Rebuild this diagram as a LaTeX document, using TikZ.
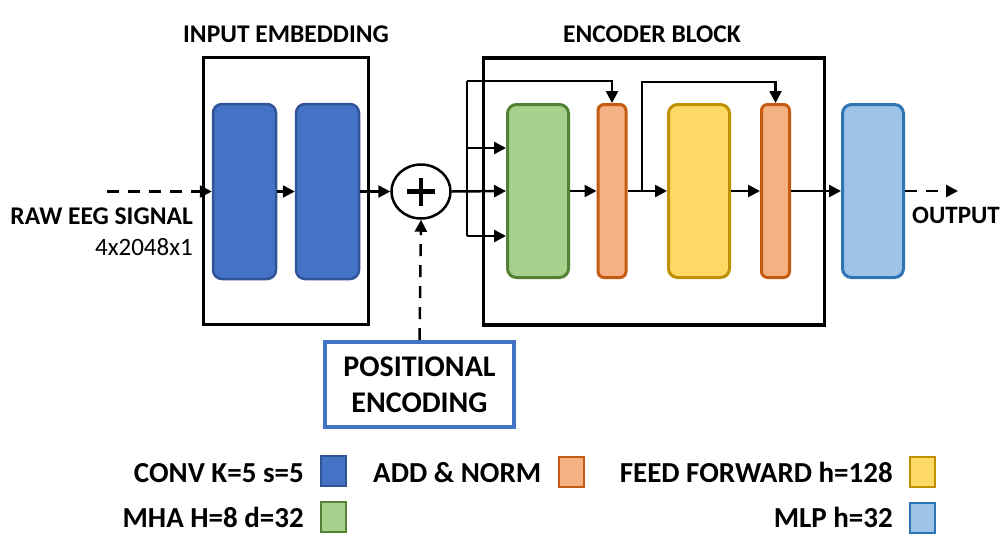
\documentclass[tikz,border=0pt]{standalone}
\usepackage{fontspec}
\setmainfont{Carlito}
\usetikzlibrary{arrows.meta,shapes.geometric}
\definecolor{convF}{HTML}{4472C4}\definecolor{convD}{HTML}{2F5597}
\definecolor{mhaF}{HTML}{A9D18E}\definecolor{mhaD}{HTML}{548235}
\definecolor{anF}{HTML}{F4B183}\definecolor{anD}{HTML}{C55A11}
\definecolor{ffF}{HTML}{FFD966}\definecolor{ffD}{HTML}{BF9000}
\definecolor{mlpF}{HTML}{9DC3E6}\definecolor{mlpD}{HTML}{2E75B6}
\begin{document}
\begin{tikzpicture}[x=1pt,y=-1pt,
  blk/.style={draw,line width=3pt,rounded corners=9pt,inner sep=0pt,minimum width=61pt,minimum height=173pt},
  thin/.style={blk,rounded corners=6pt,minimum width=28pt},
  frame/.style={draw,line width=3.5pt,inner sep=0pt},
  arr/.style={line width=2.5pt,-{Triangle[length=12pt,width=12pt]}},
  dashedarr/.style={arr,dash pattern=on 12pt off 9pt},
  lbl/.style={inner sep=0pt,font=\fontsize{25.5}{30}\selectfont\bfseries},
  leg/.style={inner sep=0pt,font=\fontsize{29}{34}\selectfont\bfseries},
  sw/.style={draw,line width=2pt,inner sep=0pt,minimum width=25pt,minimum height=30pt},
]
\useasboundingbox (0,0) rectangle (1003,539);
% frames
\node[frame,minimum width=165pt,minimum height=267pt] (embed) at (286,191) {};
\node[frame,minimum width=341pt,minimum height=267pt] (enc) at (654,191.3) {};
\node[lbl,anchor=base] (embedlbl) at (286,42) {INPUT EMBEDDING};
\node[lbl,anchor=base] (enclbl) at (652,42) {ENCODER BLOCK};
% blocks
\node[blk,fill=convF,draw=convD,line width=2.5pt,minimum width=63pt,minimum height=175pt] (conv1) at (244.5,191.5) {};
\node[blk,fill=convF,draw=convD,line width=2.5pt,minimum width=63pt,minimum height=175pt] (conv2) at (327.5,191.5) {};
\node[blk,fill=mhaF,draw=mhaD] (mha) at (538,191) {};
\node[thin,fill=anF,draw=anD] (an1) at (612,191) {};
\node[blk,fill=ffF,draw=ffD] (ff) at (699,191) {};
\node[thin,fill=anF,draw=anD] (an2) at (775.5,191) {};
\node[blk,fill=mlpF,draw=mlpD] (mlp) at (873,191) {};
% add node
\node[ellipse,draw,line width=2.5pt,minimum width=59pt,minimum height=54pt,inner sep=0pt] (add) at (421,191.5) {};
\draw[line width=4.5pt] ([xshift=-14pt]add.center) -- ([xshift=14pt]add.center);
\draw[line width=4.5pt] ([yshift=-14pt]add.center) -- ([yshift=14pt]add.center);
% positional encoding
\node[draw=convF,line width=4pt,minimum width=189pt,minimum height=85pt,inner sep=0pt,align=center,
  font=\fontsize{30}{36}\selectfont\bfseries] (pe) at (419.5,384.5) {POSITIONAL\\ENCODING};
% input / output
\coordinate (in) at (107,191.5);
\coordinate (out) at (958,191);
\draw[dashedarr] (in) -- (conv1.west);
\node[lbl,anchor=base east] (raw) at (193,224) {RAW EEG SIGNAL};
\node[inner sep=0pt,anchor=base east,font=\fontsize{25}{30}\selectfont] (shape) at (193,255) {4x2048x1};
\draw[arr] (conv1.east) -- (conv2.west);
\draw[arr] (conv2.east) -- (add.west);
\draw[dashedarr] (pe.north) -- (add.south);
% split into MHA
\coordinate (sTop) at (467,81);
\coordinate (sMid) at (467,148);
\coordinate (sBot) at (467,236);
\draw[line width=2.5pt] (sTop) -- (sBot);
\draw[arr] (add.east) -- (mha.west);
\draw[arr] (sMid) -- (sMid -| mha.west);
\draw[arr] (sBot) -- (sBot -| mha.west);
\draw[arr] (sTop) -| (an1.north);
\draw[arr] (mha.east) -- (an1.west);
\draw[arr] (an1.east) -- (ff.west);
\coordinate (b2) at (642,191);
\coordinate (b2t) at (642,82);
\draw[arr] (b2) -- (b2t) -| (an2.north);
\draw[arr] (ff.east) -- (an2.west);
\draw[arr] (an2.east) -- (mlp.west);
\draw[dashedarr] (mlp.east) -- (out);
\node[lbl,font=\fontsize{25}{30}\selectfont\bfseries,anchor=base west] (outlbl) at (912,223) {OUTPUT};
% legend
\node[leg,anchor=base east] (l1) at (304,482) {CONV K=5 s=5};
\node[sw,fill=convF,draw=convD] (s1) at (333.5,471) {};
\node[leg,anchor=base east] (l2) at (304,527) {MHA H=8 d=32};
\node[sw,fill=mhaF,draw=mhaD] (s2) at (333.5,517) {};
\node[leg,anchor=base west] (l3) at (373,482) {ADD \& NORM};
\node[sw,fill=anF,draw=anD] (s3) at (571.5,472) {};
\node[leg,anchor=base east] (l4) at (893,482) {FEED FORWARD h=128};
\node[sw,fill=ffF,draw=ffD] (s4) at (922.5,471.5) {};
\node[leg,anchor=base east] (l5) at (893,527) {MLP h=32};
\node[sw,fill=mlpF,draw=mlpD] (s5) at (922.5,518) {};
\end{tikzpicture}
\end{document}
